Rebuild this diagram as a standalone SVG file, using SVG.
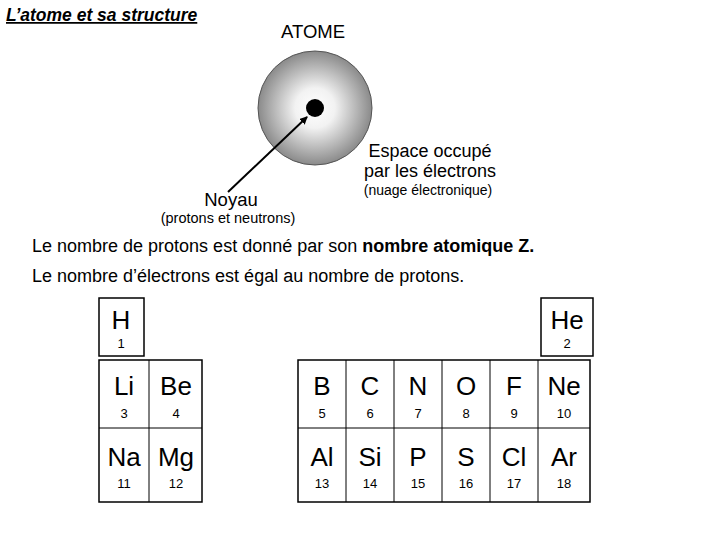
<svg xmlns="http://www.w3.org/2000/svg" width="720" height="540" viewBox="0 0 720 540">
<style>
text{font-family:"Liberation Sans",Arial,sans-serif;fill:#000}
.sym{font-size:26px;text-anchor:middle}
.num{font-size:13px;text-anchor:middle}
.box{fill:none;stroke:#000;stroke-width:1.5}
.thin{stroke:#000;stroke-width:1}
</style>
<defs>
<radialGradient id="cloud" cx="0.5" cy="0.5" r="0.5">
<stop offset="0" stop-color="#fff"/>
<stop offset="0.35" stop-color="#f2f2f2"/>
<stop offset="1" stop-color="#8a8a8a"/>
</radialGradient>
<marker id="ah" markerWidth="8" markerHeight="8" refX="7" refY="4" orient="auto" markerUnits="userSpaceOnUse">
<path d="M0,0 L8,4 L0,8 z" fill="#000"/>
</marker>
</defs>
<rect width="720" height="540" fill="#fff"/>
<text x="6" y="21" font-size="17.5" font-weight="bold" font-style="italic" text-decoration="underline">L’atome et sa structure</text>
<g id="atom">
<circle cx="315" cy="108" r="57" fill="url(#cloud)" stroke="#555" stroke-width="1"/>
<circle cx="315" cy="108" r="9" fill="#000"/>
<text x="313" y="38" font-size="18.5" text-anchor="middle">ATOME</text>
<text x="430" y="157" font-size="18" text-anchor="middle">Espace occupé</text>
<text x="430" y="177" font-size="18" text-anchor="middle">par les électrons</text>
<text x="428" y="195" font-size="14" text-anchor="middle">(nuage électronique)</text>
<text x="231" y="206" font-size="18.5" text-anchor="middle">Noyau</text>
<text x="228" y="223" font-size="14.5" text-anchor="middle">(protons et neutrons)</text>
</g>
<g id="connectors">
<line x1="228" y1="192" x2="307" y2="117" stroke="#000" stroke-width="2" marker-end="url(#ah)"/>
</g>
<text x="32" y="252" font-size="18">Le nombre de protons est donné par son <tspan font-weight="bold">nombre atomique Z.</tspan></text>
<text x="32" y="282" font-size="18">Le nombre d’électrons est égal au nombre de protons.</text>
<g id="H"><rect x="99" y="298" width="45" height="58" class="box"/><text x="121" y="329" class="sym">H</text><text x="121" y="348" class="num">1</text></g>
<g id="He"><rect x="541" y="298" width="52" height="58" class="box"/><text x="567" y="329" class="sym">He</text><text x="567" y="348" class="num">2</text></g>
<g id="leftblock">
<rect x="99" y="360" width="103" height="142" class="box"/>
<line x1="149" y1="360" x2="149" y2="502" class="thin"/>
<line x1="99" y1="428" x2="202" y2="428" class="thin"/>
<text x="124" y="395" class="sym">Li</text><text x="124" y="418" class="num">3</text>
<text x="176" y="395" class="sym">Be</text><text x="176" y="418" class="num">4</text>
<text x="124" y="466" class="sym">Na</text><text x="124" y="488" class="num">11</text>
<text x="176" y="466" class="sym">Mg</text><text x="176" y="488" class="num">12</text>
</g>
<g id="rightblock">
<rect x="298" y="360" width="292" height="142" class="box"/>
<line x1="346" y1="360" x2="346" y2="502" class="thin"/>
<line x1="394" y1="360" x2="394" y2="502" class="thin"/>
<line x1="442" y1="360" x2="442" y2="502" class="thin"/>
<line x1="490" y1="360" x2="490" y2="502" class="thin"/>
<line x1="538" y1="360" x2="538" y2="502" class="thin"/>
<line x1="298" y1="428" x2="590" y2="428" class="thin"/>
<text x="322" y="395" class="sym">B</text><text x="322" y="418" class="num">5</text>
<text x="370" y="395" class="sym">C</text><text x="370" y="418" class="num">6</text>
<text x="418" y="395" class="sym">N</text><text x="418" y="418" class="num">7</text>
<text x="466" y="395" class="sym">O</text><text x="466" y="418" class="num">8</text>
<text x="514" y="395" class="sym">F</text><text x="514" y="418" class="num">9</text>
<text x="564" y="395" class="sym">Ne</text><text x="564" y="418" class="num">10</text>
<text x="322" y="466" class="sym">Al</text><text x="322" y="488" class="num">13</text>
<text x="370" y="466" class="sym">Si</text><text x="370" y="488" class="num">14</text>
<text x="418" y="466" class="sym">P</text><text x="418" y="488" class="num">15</text>
<text x="466" y="466" class="sym">S</text><text x="466" y="488" class="num">16</text>
<text x="514" y="466" class="sym">Cl</text><text x="514" y="488" class="num">17</text>
<text x="564" y="466" class="sym">Ar</text><text x="564" y="488" class="num">18</text>
</g>
</svg>
